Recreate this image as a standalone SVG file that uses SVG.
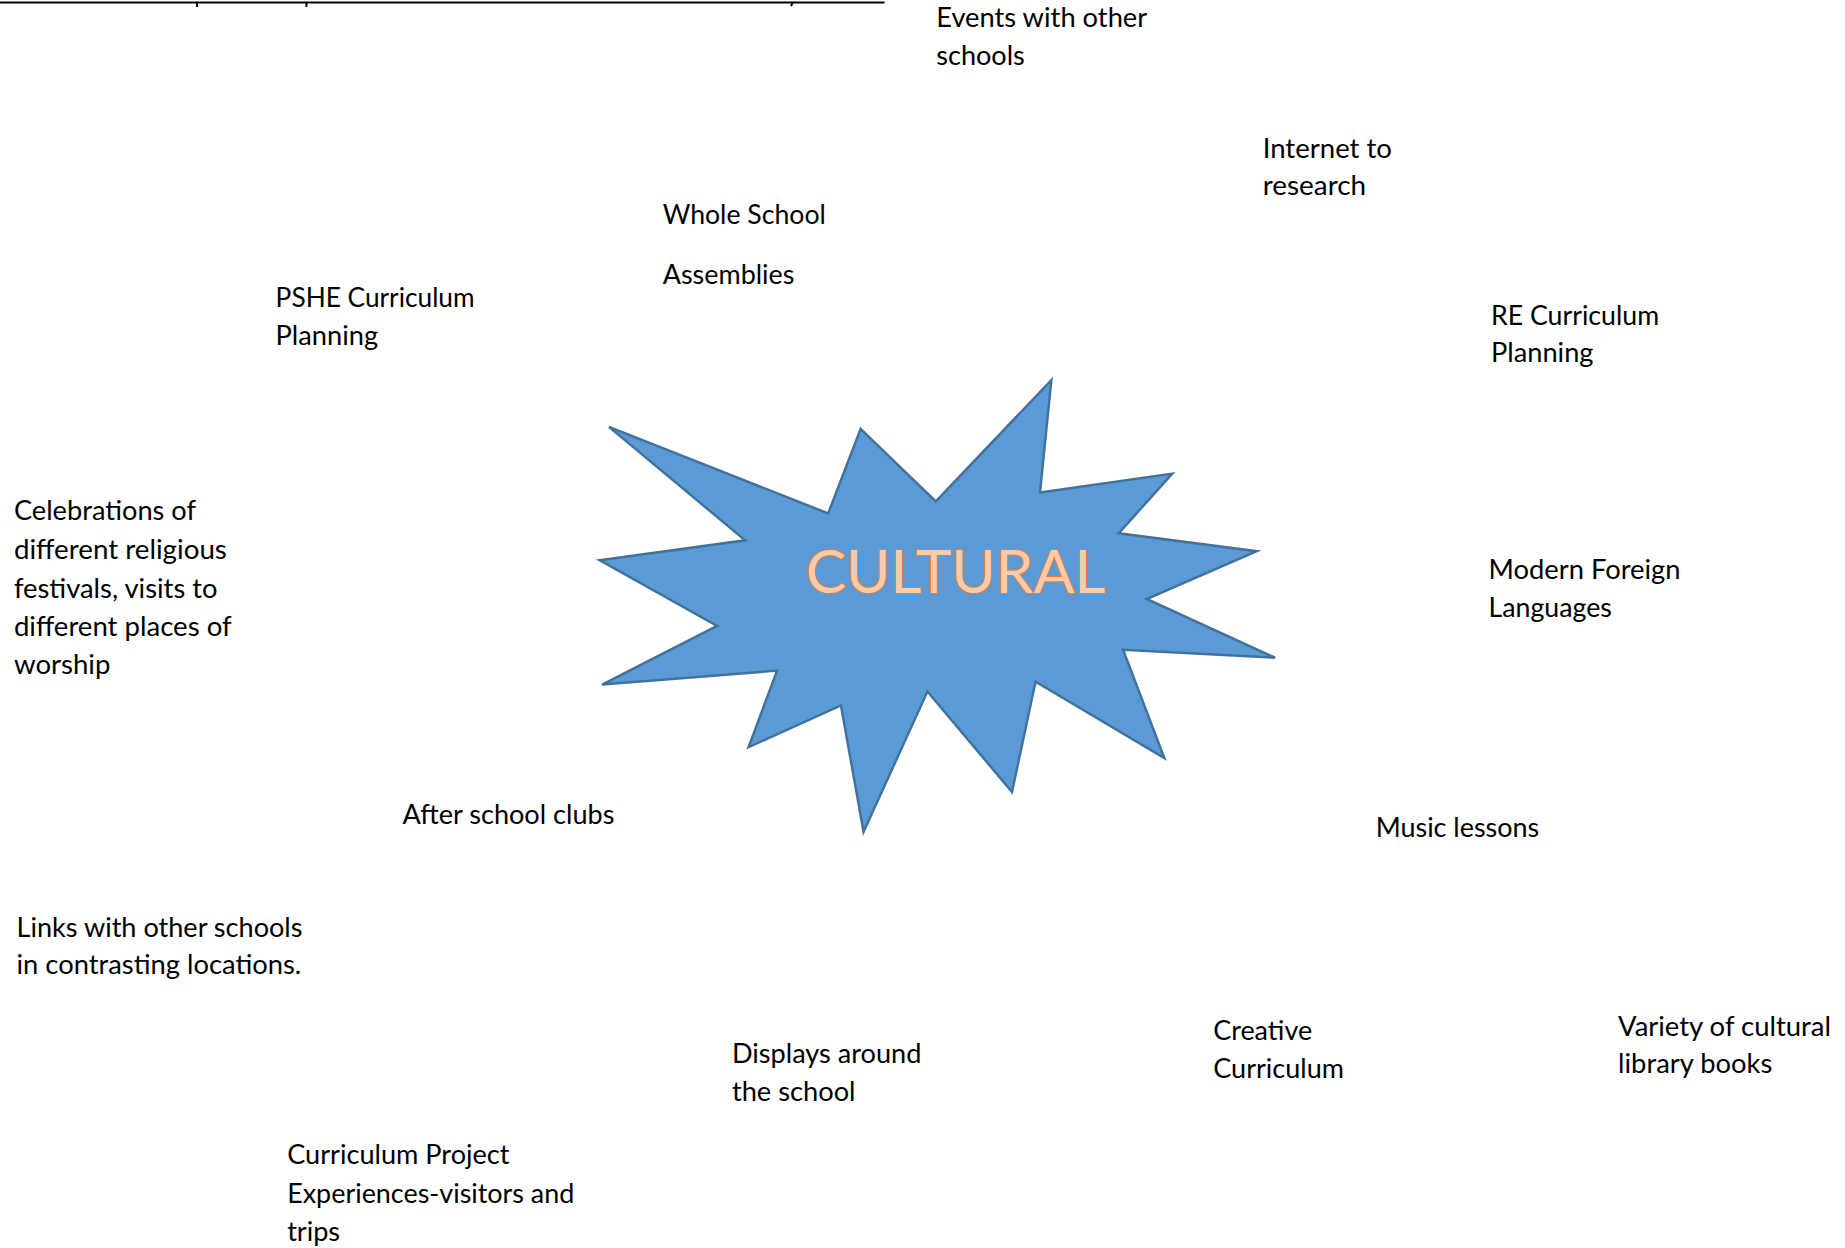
<svg xmlns="http://www.w3.org/2000/svg" width="1845" height="1248" viewBox="0 0 1845 1248">
<style>
.t{font-family:Lato,"Open Sans","Liberation Sans",sans-serif;font-size:26.5px;fill:#000}
.big{font-family:Lato,"Open Sans","Liberation Sans",sans-serif;font-size:61px;fill:#F8CBAD;stroke:#ED7D31;stroke-width:2;paint-order:stroke}
</style>
<rect width="1845" height="1248" fill="#fff"/>
<g id="page" transform="scale(0.995)">
<g id="top-rule" stroke="#000" stroke-width="2" fill="none">
<line x1="0" y1="2.5" x2="889" y2="2.5"/>
<line x1="198" y1="2" x2="198" y2="7"/>
<line x1="308" y1="2" x2="308" y2="7"/>
<line x1="797" y1="2" x2="795" y2="6"/>
</g>
<g id="connectors"></g>
<g id="cultural">
<polygon transform="translate(942.5,606) scale(0.988,1) translate(-942.5,-603)" points="1058,379 1046.5,492 1181,473 1126.5,533 1267,551 1155,599 1285.6,658 1131,650 1173,759 1042,682 1018,793 932,692 867,833 844,706 750,748 779,671 601,685 718,626 598.6,560 746.5,540 608,426 831,513 864,428 940.5,501" fill="#5B9BD5" stroke="#41719C" stroke-width="2.5" stroke-linejoin="miter"/>
<text class="big" x="810" y="596" textLength="301" lengthAdjust="spacingAndGlyphs">CULTURAL</text>
</g>
<g id="events"><text class="t" x="941" y="27" textLength="212" lengthAdjust="spacingAndGlyphs">Events with other</text><text class="t" x="941" y="65" textLength="89" lengthAdjust="spacingAndGlyphs">schools</text></g>
<g id="internet"><text class="t" x="1269" y="158.5" textLength="130" lengthAdjust="spacingAndGlyphs">Internet to</text><text class="t" x="1269" y="196.3" textLength="104" lengthAdjust="spacingAndGlyphs">research</text></g>
<g id="whole-school"><text class="t" x="666" y="224.7" textLength="164" lengthAdjust="spacingAndGlyphs">Whole School</text><text class="t" x="666" y="285" textLength="132.5" lengthAdjust="spacingAndGlyphs">Assemblies</text></g>
<g id="pshe"><text class="t" x="277" y="308.7" textLength="200" lengthAdjust="spacingAndGlyphs">PSHE Curriculum</text><text class="t" x="277" y="346.5" textLength="103" lengthAdjust="spacingAndGlyphs">Planning</text></g>
<g id="re"><text class="t" x="1498.5" y="326.4" textLength="169" lengthAdjust="spacingAndGlyphs">RE Curriculum</text><text class="t" x="1498.5" y="364.3" textLength="103" lengthAdjust="spacingAndGlyphs">Planning</text></g>
<g id="celebrations"><text class="t" x="14" y="522.8" textLength="183" lengthAdjust="spacingAndGlyphs">Celebrations of</text><text class="t" x="14" y="561.8" textLength="214" lengthAdjust="spacingAndGlyphs">different religious</text><text class="t" x="14" y="600.8" textLength="204.6" lengthAdjust="spacingAndGlyphs">festivals, visits to</text><text class="t" x="14" y="638.7" textLength="218.8" lengthAdjust="spacingAndGlyphs">different places of</text><text class="t" x="14" y="677.7" textLength="97" lengthAdjust="spacingAndGlyphs">worship</text></g>
<g id="mfl"><text class="t" x="1496" y="581.9" textLength="193" lengthAdjust="spacingAndGlyphs">Modern Foreign</text><text class="t" x="1496" y="619.7" textLength="124" lengthAdjust="spacingAndGlyphs">Languages</text></g>
<g id="after-school"><text class="t" x="404.5" y="827.9" textLength="213" lengthAdjust="spacingAndGlyphs">After school clubs</text></g>
<g id="music"><text class="t" x="1382.6" y="840.9" textLength="164.4" lengthAdjust="spacingAndGlyphs">Music lessons</text></g>
<g id="links"><text class="t" x="16.6" y="941.4" textLength="287.4" lengthAdjust="spacingAndGlyphs">Links with other schools</text><text class="t" x="16.6" y="979.3" textLength="286.2" lengthAdjust="spacingAndGlyphs">in contrasting locations.</text></g>
<g id="creative"><text class="t" x="1219.4" y="1045.5" textLength="99.3" lengthAdjust="spacingAndGlyphs">Creative</text><text class="t" x="1219.4" y="1083.3" textLength="131.3" lengthAdjust="spacingAndGlyphs">Curriculum</text></g>
<g id="library"><text class="t" x="1626.2" y="1040.8" textLength="214" lengthAdjust="spacingAndGlyphs">Variety of cultural</text><text class="t" x="1626.2" y="1078.6" textLength="155" lengthAdjust="spacingAndGlyphs">library books</text></g>
<g id="displays"><text class="t" x="735.6" y="1068" textLength="190.4" lengthAdjust="spacingAndGlyphs">Displays around</text><text class="t" x="735.6" y="1107" textLength="124.2" lengthAdjust="spacingAndGlyphs">the school</text></g>
<g id="project"><text class="t" x="288.6" y="1169.7" textLength="223.5" lengthAdjust="spacingAndGlyphs">Curriculum Project</text><text class="t" x="288.6" y="1208.9" textLength="288.6" lengthAdjust="spacingAndGlyphs">Experiences-visitors and</text><text class="t" x="288.6" y="1246.8" textLength="53.2" lengthAdjust="spacingAndGlyphs">trips</text></g>
</g>
</svg>
